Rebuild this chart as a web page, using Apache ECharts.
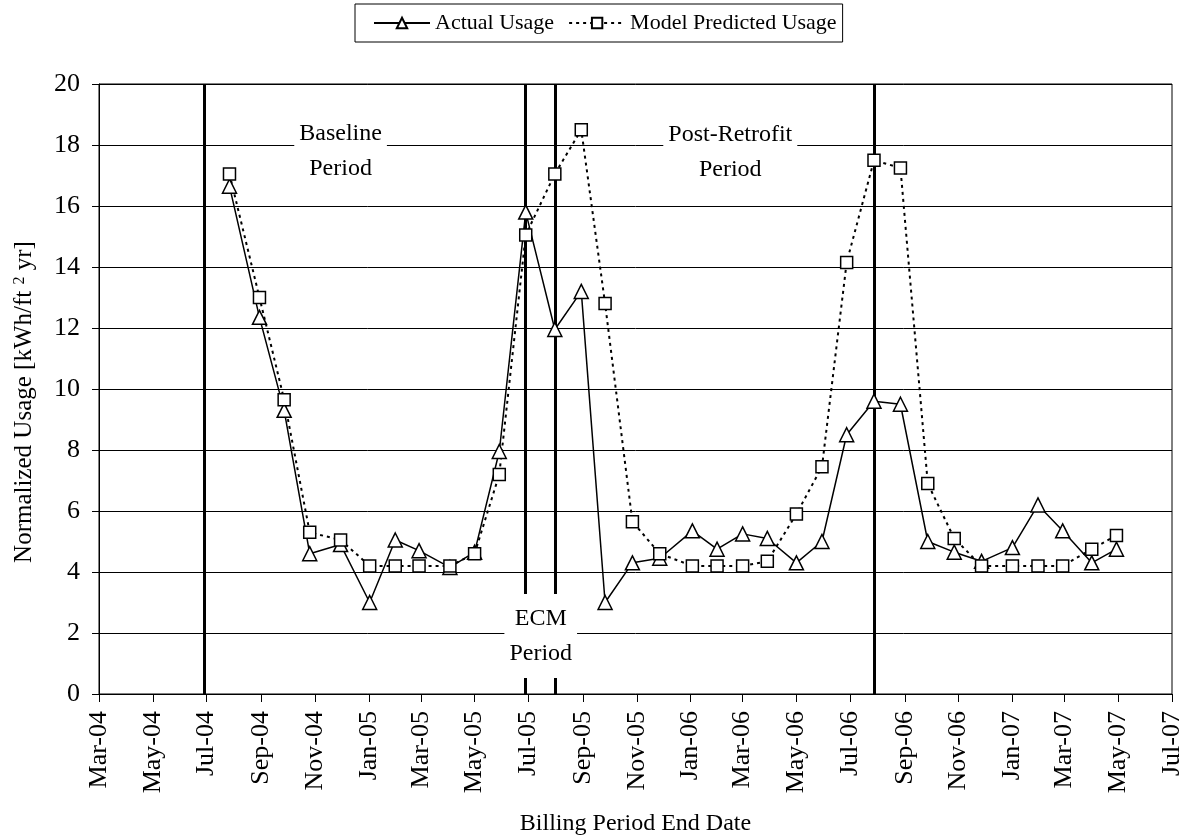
<!DOCTYPE html>
<html>
<head>
<meta charset="utf-8">
<script src="https://cdn.jsdelivr.net/npm/echarts@6/dist/echarts.min.js"></script>
<style>
html, body { margin: 0; padding: 0; background: #fff; }
#usageChart { width: 1183px; height: 836px; }
</style>
</head>
<body>
<div id="usageChart"></div>
<script>
// billing period end dates and normalized usage [kWh/ft2 yr]
var billDates = [
  '2004-07-27', '2004-08-30', '2004-09-27', '2004-10-26', '2004-11-30',
  '2005-01-02', '2005-01-31', '2005-02-27', '2005-04-03', '2005-05-01',
  '2005-05-29', '2005-06-28', '2005-07-31', '2005-08-30', '2005-09-26',
  '2005-10-27', '2005-11-27', '2006-01-03', '2006-01-31', '2006-03-01',
  '2006-03-29', '2006-05-01', '2006-05-30', '2006-06-27', '2006-07-28',
  '2006-08-27', '2006-09-27', '2006-10-27', '2006-11-27', '2007-01-01',
  '2007-01-30', '2007-02-27', '2007-04-01', '2007-04-29'
]
var actualUsage = [
  16.65, 12.35, 9.3, 4.6, 4.9,
  3.0, 5.05, 4.7, 4.15, 4.65,
  7.95, 15.8, 11.95, 13.2, 3.0,
  4.3, 4.45, 5.35, 4.75, 5.25,
  5.1, 4.3, 5.0, 8.5, 9.6,
  9.5, 5.0, 4.65, 4.35, 4.8,
  6.2, 5.35, 4.3, 4.75
]
var predictedUsage = [
  17.05, 13.0, 9.65, 5.3, 5.05,
  4.2, 4.2, 4.2, 4.2, 4.6,
  7.2, 15.05, 17.05, 18.5, 12.8,
  5.65, 4.6, 4.2, 4.2, 4.2,
  4.35, 5.9, 7.45, 14.15, 17.5,
  17.25, 6.9, 5.1, 4.2, 4.2,
  4.2, 4.2, 4.75, 5.2
]
// period boundaries (thick vertical lines)
var periodBounds = ['2004-06-28', '2005-06-28', '2005-07-31', '2006-07-28']
var tickLabels = [
  'Mar-04', 'May-04', 'Jul-04', 'Sep-04', 'Nov-04', 'Jan-05', 'Mar-05',
  'May-05', 'Jul-05', 'Sep-05', 'Nov-05', 'Jan-06', 'Mar-06', 'May-06',
  'Jul-06', 'Sep-06', 'Nov-06', 'Jan-07', 'Mar-07', 'May-07', 'Jul-07'
]
var monthNames = ['Jan', 'Feb', 'Mar', 'Apr', 'May', 'Jun', 'Jul', 'Aug', 'Sep', 'Oct', 'Nov', 'Dec']

var font = 'Liberation Serif'

function toTime (s) {
  var p = s.split('-').map(Number)
  return new Date(p[0], p[1] - 1, p[2]).getTime()
}
function labelToTime (s) {
  var p = s.split('-')
  return new Date(2000 + Number(p[1]), monthNames.indexOf(p[0]), 1).getTime()
}
var tickTimes = tickLabels.map(labelToTime)

var chart = echarts.init(document.getElementById('usageChart'))
chart.setOption({
  animation: false,
  backgroundColor: '#fff',
  textStyle: { fontFamily: font, color: '#000' },
  grid: {
    left: 99,
    right: 11,
    top: 84,
    bottom: 142,
    show: true,
    borderColor: '#000',
    borderWidth: 1,
    outerBoundsMode: 'none'
  },
  legend: {
    left: 355,
    top: 4,
    data: ['Actual Usage', 'Model Predicted Usage'],
    borderColor: '#000',
    borderWidth: 1,
    padding: [8, 6, 8, 18],
    itemGap: 14,
    itemWidth: 56,
    itemHeight: 13,
    textStyle: { fontSize: 22, fontFamily: font, color: '#000' }
  },
  // dates are plotted as timestamps on a value axis so ticks can sit on the 1st of every other month
  xAxis: {
    type: 'value',
    min: tickTimes[0],
    max: tickTimes[tickTimes.length - 1],
    axisLine: { lineStyle: { color: '#000', width: 1 } },
    axisTick: { show: true, length: 8, customValues: tickTimes, lineStyle: { color: '#000' } },
    axisLabel: {
      customValues: tickTimes,
      rotate: 90,
      margin: 17,
      fontSize: 26,
      fontFamily: font,
      color: '#000',
      formatter: function (val) {
        var i = tickTimes.indexOf(val)
        if (i >= 0) return tickLabels[i]
        var d = new Date(val)
        return monthNames[d.getMonth()] + '-' + String(d.getFullYear()).slice(2)
      }
    },
    splitLine: { show: false },
    name: 'Billing Period End Date',
    nameLocation: 'middle',
    nameGap: 118,
    nameTextStyle: { fontSize: 24, fontFamily: font, color: '#000' }
  },
  yAxis: {
    type: 'value',
    min: 0,
    max: 20,
    interval: 2,
    axisLine: { show: true, lineStyle: { color: '#000' } },
    axisTick: { show: true, length: 7, lineStyle: { color: '#000' } },
    axisLabel: { fontSize: 26, fontFamily: font, color: '#000', margin: 19 },
    splitLine: { show: true, lineStyle: { color: '#000', width: 1 } },
    name: 'Normalized Usage [kWh/ft {sup|2} yr]',
    nameLocation: 'middle',
    nameRotate: 90,
    nameGap: 62,
    nameTextStyle: {
      fontSize: 25,
      fontFamily: font,
      color: '#000',
      padding: [0, 26, 0, 0],
      rich: {
        sup: { fontSize: 16, fontFamily: font, color: '#000', verticalAlign: 'top', lineHeight: 25 }
      }
    }
  },
  series: [
    {
      type: 'line',
      data: [],
      markLine: {
        z: 3,
        silent: true,
        symbol: 'none',
        label: { show: false },
        lineStyle: { color: '#000', width: 3, type: 'solid' },
        data: periodBounds.map(function (d) { return { xAxis: toTime(d) } })
      }
    },
    {
      name: 'Actual Usage',
      type: 'line',
      z: 5,
      data: billDates.map(function (d, i) { return [toTime(d), actualUsage[i]] }),
      symbol: 'triangle',
      symbolSize: 14,
      showAllSymbol: true,
      itemStyle: { color: '#fff', borderColor: '#000', borderWidth: 1.5 },
      lineStyle: { color: '#000', width: 1.5 }
    },
    {
      name: 'Model Predicted Usage',
      type: 'line',
      z: 5,
      data: billDates.map(function (d, i) { return [toTime(d), predictedUsage[i]] }),
      symbol: 'rect',
      symbolSize: 12,
      showAllSymbol: true,
      itemStyle: { color: '#fff', borderColor: '#000', borderWidth: 1.5 },
      lineStyle: { color: '#000', width: 2, type: [3, 4] }
    },
    {
      type: 'line',
      data: [],
      markPoint: {
        z: 6,
        silent: true,
        symbol: 'circle',
        symbolSize: 0,
        label: {
          show: true,
          position: 'inside',
          formatter: '{b}',
          fontSize: 24,
          fontFamily: font,
          color: '#000',
          lineHeight: 35,
          align: 'center',
          backgroundColor: '#fff',
          padding: [7, 5]
        },
        data: [
          { name: 'Baseline\nPeriod', coord: [toTime('2004-11-30'), 17.8] },
          { name: 'Post-Retrofit\nPeriod', coord: [toTime('2006-02-15'), 17.75] },
          { name: 'ECM\nPeriod', coord: [toTime('2005-07-15'), 1.9] }
        ]
      }
    }
  ]
})
</script>
</body>
</html>
